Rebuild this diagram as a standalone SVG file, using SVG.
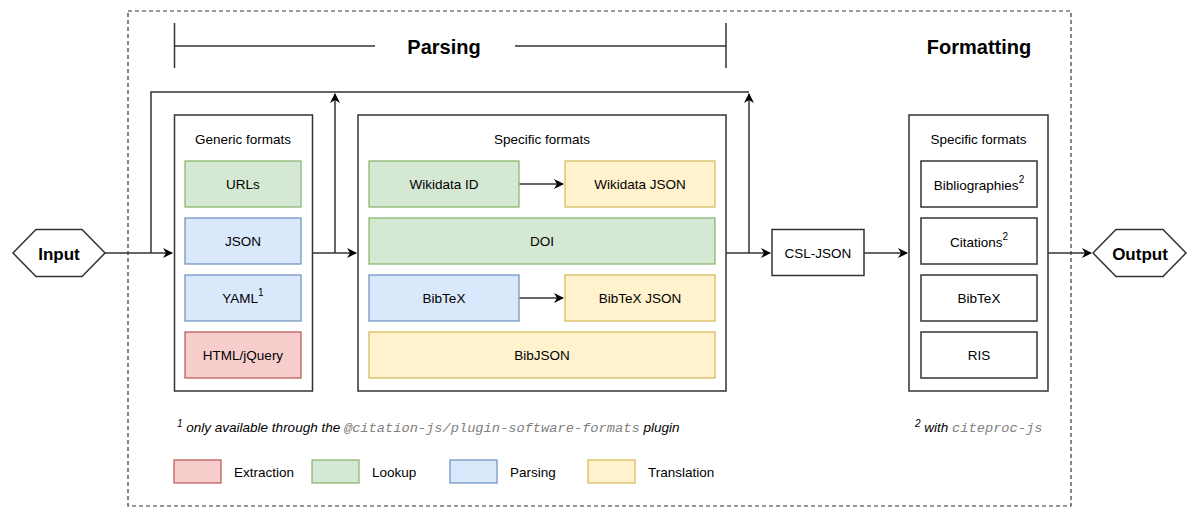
<svg xmlns="http://www.w3.org/2000/svg" width="1200" height="518" viewBox="0 0 1200 518">
<defs>
<marker id="arr" viewBox="0 0 10 10" refX="9" refY="5" markerWidth="10" markerHeight="10" markerUnits="userSpaceOnUse" orient="auto">
<path d="M0,0 L10,5 L0,10 L3,5 Z" fill="#000"/>
</marker>
<style>
text{font-family:"Liberation Sans",Arial,sans-serif;fill:#000}
.lbl{font-size:13.5px;text-anchor:middle;dominant-baseline:central}
.big{font-size:20px;font-weight:bold;text-anchor:middle;dominant-baseline:central}
.hex{font-size:17px;font-weight:bold;text-anchor:middle;dominant-baseline:central}
.box{fill:#fff;stroke:#333;stroke-width:1.5}
.ln{fill:none;stroke:#333;stroke-width:1.5}
.g{fill:#d5e8d4;stroke:#82b366;stroke-width:1.2}
.b{fill:#dae8fc;stroke:#6c8ebf;stroke-width:1.2}
.y{fill:#fff2cc;stroke:#d6b656;stroke-width:1.2}
.r{fill:#f8cecc;stroke:#b85450;stroke-width:1.2}
.w{fill:#fff;stroke:#333;stroke-width:1.5}
.foot{font-size:13.5px;font-style:italic}
.mono{font-family:"Liberation Mono","Courier New",monospace;fill:#808080;font-style:italic;font-size:13.7px}
.leg{font-size:13.5px;dominant-baseline:central}
</style>
</defs>
<rect width="1200" height="518" fill="#fff"/>

<rect x="128" y="11" width="943" height="495" fill="none" stroke="#333" stroke-width="1.2" stroke-dasharray="4,3"/>

<g id="bracket">
<path class="ln" d="M174.5,23 V68 M174.5,46 H375 M515,46 H726 M726,23 V68"/>
<text class="big" x="444" y="47">Parsing</text>
</g>
<text class="big" x="979" y="47">Formatting</text>

<g id="input">
<polygon class="w" points="13,253 36,229.5 82,229.5 105,253 82,276.5 36,276.5"/>
<text class="hex" x="59" y="254">Input</text>
</g>

<g id="generic">
<rect class="box" x="174.5" y="115" width="138" height="276"/>
<text class="lbl" x="243" y="139">Generic formats</text>
</g>
<g id="urls"><rect class="g" x="185" y="161" width="116" height="46"/><text class="lbl" x="243" y="184">URLs</text></g>
<g id="json"><rect class="b" x="185" y="218" width="116" height="46"/><text class="lbl" x="243" y="241">JSON</text></g>
<g id="yaml"><rect class="b" x="185" y="275" width="116" height="46"/><text class="lbl" x="243" y="298">YAML<tspan font-size="10" dy="-6">1</tspan></text></g>
<g id="html"><rect class="r" x="185" y="332" width="116" height="46"/><text class="lbl" x="243" y="355">HTML/jQuery</text></g>

<g id="specific">
<rect class="box" x="358" y="115" width="368" height="276"/>
<text class="lbl" x="542" y="139">Specific formats</text>
</g>
<g id="wikidataid"><rect class="g" x="369" y="161" width="150" height="46"/><text class="lbl" x="444" y="184">Wikidata ID</text></g>
<g id="wikidatajson"><rect class="y" x="565" y="161" width="150" height="46"/><text class="lbl" x="640" y="184">Wikidata JSON</text></g>
<g id="doi"><rect class="g" x="369" y="218" width="346" height="46"/><text class="lbl" x="542" y="241">DOI</text></g>
<g id="bibtex"><rect class="b" x="369" y="275" width="150" height="46"/><text class="lbl" x="444" y="298">BibTeX</text></g>
<g id="bibtexjson"><rect class="y" x="565" y="275" width="150" height="46"/><text class="lbl" x="640" y="298">BibTeX JSON</text></g>
<g id="bibjson"><rect class="y" x="369" y="332" width="346" height="46"/><text class="lbl" x="542" y="355">BibJSON</text></g>

<g id="csljson"><rect class="w" x="772" y="229.5" width="92" height="46"/><text class="lbl" x="818" y="253">CSL-JSON</text></g>

<g id="formatting">
<rect class="box" x="909" y="115" width="139" height="276"/>
<text class="lbl" x="978.5" y="139">Specific formats</text>
</g>
<g id="bibliographies"><rect class="w" x="921" y="161" width="116" height="46"/><text class="lbl" x="979" y="185">Bibliographies<tspan font-size="10" dy="-6">2</tspan></text></g>
<g id="citations"><rect class="w" x="921" y="218" width="116" height="46"/><text class="lbl" x="979" y="242">Citations<tspan font-size="10" dy="-6">2</tspan></text></g>
<g id="fbibtex"><rect class="w" x="921" y="275" width="116" height="46"/><text class="lbl" x="979" y="298">BibTeX</text></g>
<g id="ris"><rect class="w" x="921" y="332" width="116" height="46"/><text class="lbl" x="979" y="355">RIS</text></g>

<g id="output">
<polygon class="w" points="1093,253 1116,229.5 1163,229.5 1186,253 1163,276.5 1116,276.5"/>
<text class="hex" x="1140" y="254">Output</text>
</g>

<g id="connectors">
<path class="ln" d="M105,253 H172" marker-end="url(#arr)"/>
<path class="ln" d="M151,253 V92 H749"/>
<path class="ln" d="M312,253 H356" marker-end="url(#arr)"/>
<path class="ln" d="M335,253 V94" marker-end="url(#arr)"/>
<path class="ln" d="M726,253 H770" marker-end="url(#arr)"/>
<path class="ln" d="M749,253 V94" marker-end="url(#arr)"/>
<path class="ln" d="M864,253 H907" marker-end="url(#arr)"/>
<path class="ln" d="M1048,253 H1091" marker-end="url(#arr)"/>
<path class="ln" d="M519.6,184 H563" marker-end="url(#arr)"/>
<path class="ln" d="M519.6,298 H563" marker-end="url(#arr)"/>
</g>

<text class="foot" x="177" y="432"><tspan font-size="10" dy="-5">1</tspan><tspan dy="5"> only available through the </tspan><tspan class="mono">@citation-js/plugin-software-formats</tspan> plugin</text>
<text class="foot" x="915" y="432"><tspan font-size="10" dy="-5">2</tspan><tspan dy="5"> with </tspan><tspan class="mono">citeproc-js</tspan></text>

<g id="legend">
<rect class="r" x="174" y="460" width="47" height="23"/><text class="leg" x="234" y="472">Extraction</text>
<rect class="g" x="312" y="460" width="47" height="23"/><text class="leg" x="372" y="472">Lookup</text>
<rect class="b" x="450" y="460" width="47" height="23"/><text class="leg" x="510" y="472">Parsing</text>
<rect class="y" x="588" y="460" width="47" height="23"/><text class="leg" x="648" y="472">Translation</text>
</g>
</svg>
